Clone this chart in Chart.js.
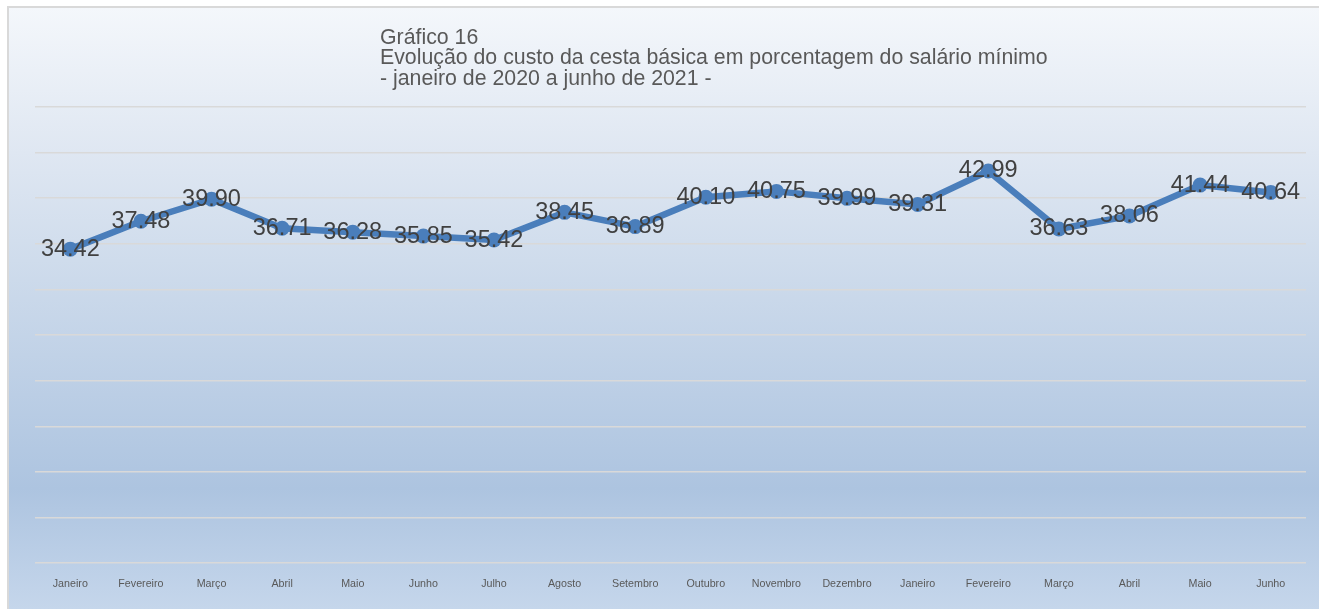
<!DOCTYPE html>
<html>
<head>
<meta charset="utf-8">
<script src="https://cdn.jsdelivr.net/npm/chart.js@4/dist/chart.umd.min.js"></script>
<style>
  html, body { margin: 0; padding: 0; background: #ffffff; }
  #wrap { position: relative; width: 1319px; height: 609px; overflow: hidden; }
  #c { position: absolute; left: 0; top: 0; }
  #title {
    position: absolute; left: 380px; top: 27px;
    font-family: "Liberation Sans", Arial, sans-serif;
    font-size: 21.3px; line-height: 20.3px; color: #595959;
    white-space: nowrap;
  }
</style>
</head>
<body>
<div id="wrap">
  <canvas id="c" width="1319" height="609"></canvas>
  <div id="title">Gráfico 16<br>Evolução do custo da cesta básica em porcentagem do salário mínimo<br>- janeiro de 2020 a junho de 2021 -</div>
</div>
<script>
const categories = ["Janeiro","Fevereiro","Março","Abril","Maio","Junho","Julho","Agosto","Setembro","Outubro","Novembro","Dezembro","Janeiro","Fevereiro","Março","Abril","Maio","Junho"];
const custoPercentSalario = [34.42, 37.48, 39.90, 36.71, 36.28, 35.85, 35.42, 38.45, 36.89, 40.10, 40.75, 39.99, 39.31, 42.99, 36.63, 38.06, 41.44, 40.64];
const yMin = 0, yMax = 50, yStep = 5;

const bgPlugin = {
  id: 'bg',
  beforeDraw(chart) {
    const ctx = chart.ctx;
    const W = chart.width, H = chart.height;
    ctx.save();
    ctx.fillStyle = '#ffffff';
    ctx.fillRect(0, 0, W, H);
    const g = ctx.createLinearGradient(0, 8, 0, H);
    g.addColorStop(0, '#f4f7fb');
    g.addColorStop(0.24, '#dfe7f2');
    g.addColorStop(0.42, '#cfdcec');
    g.addColorStop(0.80, '#adc4e0');
    g.addColorStop(1, '#c5d6eb');
    ctx.fillStyle = g;
    ctx.fillRect(9, 8, W - 9, H - 8);
    ctx.fillStyle = '#d9d9d9';
    ctx.fillRect(7, 6, W - 7, 2);
    ctx.fillRect(7, 6, 2, H - 6);
    ctx.restore();
  }
};

const labelPlugin = {
  id: 'vlabels',
  afterDatasetsDraw(chart) {
    const ctx = chart.ctx;
    const meta = chart.getDatasetMeta(0);
    const data = chart.data.datasets[0].data;
    ctx.save();
    ctx.font = '23.5px "Liberation Sans", Arial, sans-serif';
    ctx.fillStyle = '#404040';
    ctx.textAlign = 'center';
    ctx.textBaseline = 'middle';
    meta.data.forEach((pt, i) => {
      ctx.fillText(data[i].toFixed(2), pt.x, pt.y);
    });
    ctx.restore();
  }
};

new Chart(document.getElementById('c'), {
  type: 'line',
  data: {
    labels: categories,
    datasets: [{
      data: custoPercentSalario,
      borderColor: '#4a7ebb',
      backgroundColor: '#4a7ebb',
      borderWidth: 6.5,
      pointRadius: 7.5,
      pointBorderWidth: 0,
      pointBackgroundColor: '#4a7ebb',
      tension: 0,
      fill: false
    }]
  },
  options: {
    responsive: false,
    animation: false,
    events: [],
    layout: { padding: { left: 35, right: 13, top: 107, bottom: 5 } },
    plugins: {
      legend: { display: false },
      title: { display: false },
      tooltip: { enabled: false }
    },
    scales: {
      x: {
        offset: true,
        grid: { display: false, drawTicks: false },
        border: { display: false },
        ticks: {
          color: '#595959',
          font: { family: '"Liberation Sans", Arial, sans-serif', size: 10.7 },
          padding: 14,
          maxRotation: 0,
          autoSkip: false
        }
      },
      y: {
        min: yMin, max: yMax,
        grid: { color: '#d9d9d9', lineWidth: 1.5, drawTicks: false },
        border: { display: false },
        ticks: { display: false, stepSize: yStep }
      }
    }
  },
  plugins: [bgPlugin, labelPlugin]
});
</script>
</body>
</html>
